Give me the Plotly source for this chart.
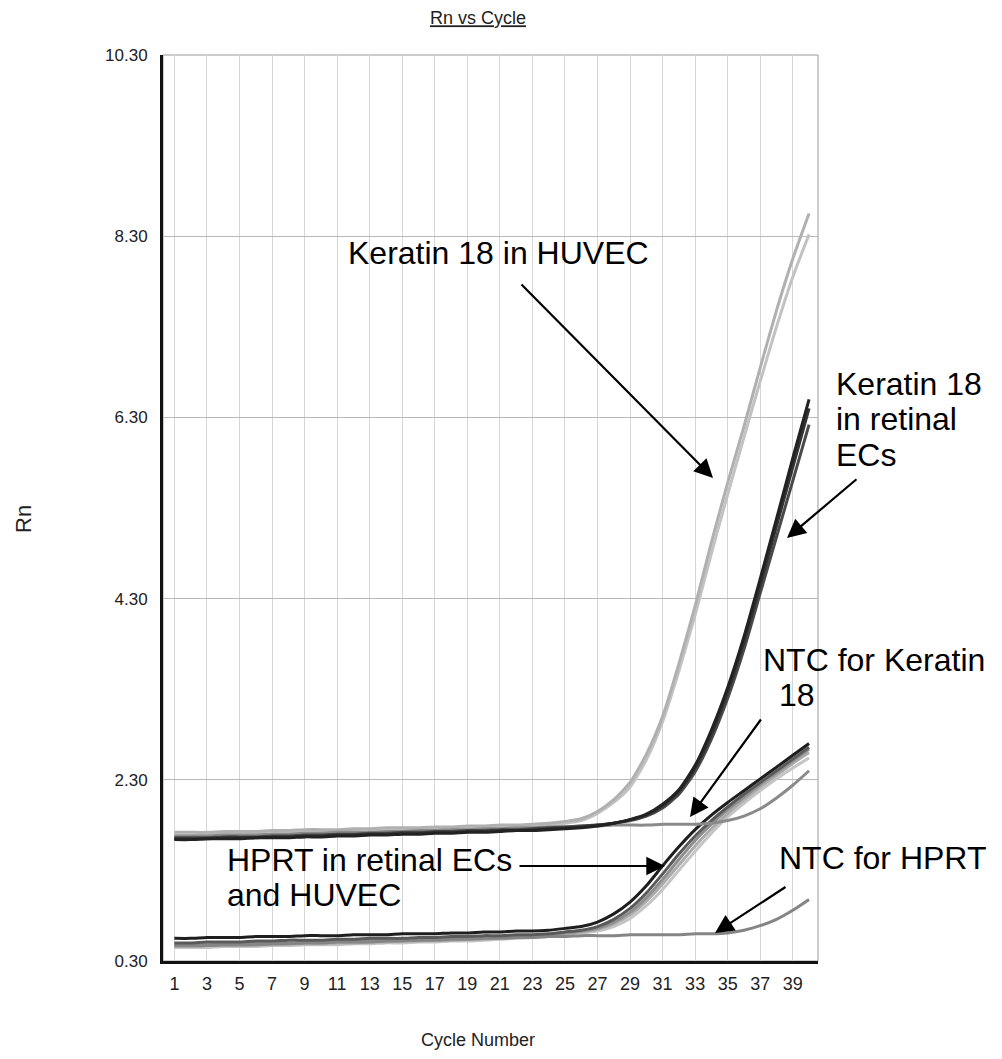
import plotly.graph_objects as go

cycles = list(range(1, 41))

huvec_k18_a = [1.72,1.72,1.72,1.73,1.73,1.73,1.74,1.74,1.75,1.75, 1.75,1.76,1.76,1.77,1.77,1.77,1.78,1.78,1.79,1.79, 1.80,1.80,1.81,1.82,1.84,1.87,1.95,2.08,2.27,2.58, 3.00,3.58,4.22,4.92,5.58,6.20,6.85,7.48,8.05,8.55]
huvec_k18_b = [1.69,1.69,1.70,1.70,1.70,1.71,1.71,1.72,1.72,1.73, 1.73,1.73,1.74,1.74,1.75,1.75,1.76,1.76,1.77,1.77, 1.78,1.78,1.79,1.80,1.82,1.85,1.93,2.05,2.22,2.52, 2.94,3.50,4.12,4.80,5.45,6.08,6.70,7.30,7.85,8.32]
retinal_k18_a = [1.64,1.64,1.65,1.65,1.65,1.66,1.66,1.66,1.67,1.67, 1.68,1.68,1.69,1.69,1.70,1.70,1.71,1.71,1.72,1.72, 1.73,1.74,1.74,1.75,1.76,1.77,1.79,1.82,1.86,1.92, 2.03,2.19,2.46,2.85,3.32,3.88,4.52,5.18,5.85,6.50]
retinal_k18_b = [1.65,1.65,1.65,1.66,1.66,1.66,1.67,1.67,1.68,1.68, 1.69,1.69,1.70,1.70,1.71,1.71,1.72,1.72,1.73,1.73, 1.74,1.74,1.75,1.76,1.77,1.78,1.80,1.82,1.86,1.91, 2.01,2.17,2.43,2.80,3.27,3.82,4.45,5.10,5.75,6.40]
retinal_k18_c = [1.66,1.66,1.66,1.67,1.67,1.67,1.68,1.68,1.69,1.69, 1.70,1.70,1.71,1.71,1.72,1.72,1.73,1.73,1.74,1.74, 1.75,1.75,1.76,1.77,1.78,1.79,1.80,1.82,1.85,1.90, 1.99,2.14,2.39,2.75,3.20,3.74,4.36,4.98,5.60,6.22]
ntc_k18 = [1.68,1.68,1.68,1.69,1.69,1.69,1.70,1.70,1.71,1.71, 1.72,1.72,1.72,1.73,1.73,1.74,1.74,1.75,1.75,1.76, 1.76,1.77,1.77,1.78,1.78,1.79,1.79,1.80,1.80,1.80, 1.81,1.81,1.81,1.82,1.85,1.90,1.98,2.10,2.24,2.40]
hprt_a = [0.55,0.55,0.56,0.56,0.56,0.57,0.57,0.57,0.58,0.58, 0.58,0.59,0.59,0.59,0.60,0.60,0.60,0.61,0.61,0.62, 0.62,0.63,0.63,0.64,0.66,0.68,0.73,0.82,0.95,1.13, 1.35,1.56,1.75,1.91,2.05,2.18,2.31,2.44,2.57,2.70]
hprt_b = [0.50,0.50,0.51,0.51,0.51,0.52,0.52,0.53,0.53,0.53, 0.54,0.54,0.55,0.55,0.55,0.56,0.56,0.57,0.57,0.58, 0.58,0.59,0.59,0.60,0.62,0.64,0.68,0.76,0.88,1.05, 1.26,1.48,1.68,1.85,2.00,2.14,2.27,2.40,2.53,2.66]
hprt_c = [0.46,0.46,0.47,0.47,0.47,0.48,0.48,0.49,0.49,0.49, 0.50,0.50,0.51,0.51,0.52,0.52,0.53,0.53,0.54,0.54, 0.55,0.56,0.57,0.58,0.60,0.62,0.65,0.71,0.81,0.96, 1.15,1.36,1.57,1.76,1.93,2.08,2.22,2.35,2.48,2.60]
hprt_d = [0.45,0.45,0.45,0.46,0.46,0.46,0.47,0.47,0.48,0.48, 0.48,0.49,0.49,0.50,0.50,0.51,0.51,0.52,0.52,0.53, 0.54,0.55,0.56,0.57,0.59,0.61,0.63,0.68,0.77,0.91, 1.09,1.30,1.51,1.71,1.89,2.04,2.18,2.31,2.43,2.54]
hprt_e = [0.48,0.48,0.48,0.49,0.49,0.50,0.50,0.50,0.51,0.51, 0.52,0.52,0.53,0.53,0.53,0.54,0.54,0.55,0.55,0.56, 0.57,0.57,0.58,0.59,0.61,0.63,0.66,0.73,0.84,1.00, 1.20,1.42,1.63,1.81,1.97,2.11,2.25,2.38,2.51,2.64]
ntc_hprt = [0.47,0.47,0.47,0.48,0.48,0.48,0.49,0.49,0.50,0.50, 0.51,0.51,0.51,0.52,0.52,0.53,0.53,0.54,0.54,0.55, 0.55,0.56,0.56,0.57,0.57,0.58,0.58,0.58,0.59,0.59, 0.59,0.59,0.60,0.60,0.61,0.64,0.69,0.76,0.86,0.98]

y_tick_vals = [0.3, 2.3, 4.3, 6.3, 8.3, 10.3]
y_tick_text = ["0.30", "2.30", "4.30", "6.30", "8.30", "10.30"]
x_tick_vals = list(range(1, 40, 2))

series = [
    (hprt_d, "#c4c4c4"), (hprt_c, "#ababab"), (hprt_e, "#8e8e8e"), (ntc_hprt, "#858585"),
    (hprt_b, "#5a5a5a"), (hprt_a, "#1e1e1e"),
    (huvec_k18_b, "#c2c2c2"), (huvec_k18_a, "#b0b0b0"),
    (ntc_k18, "#8a8a8a"),
    (retinal_k18_c, "#4a4a4a"), (retinal_k18_b, "#333333"), (retinal_k18_a, "#222222"),
]

fig = go.Figure()
for vals, col in series:
    fig.add_trace(go.Scatter(x=cycles, y=vals, mode="lines",
                             line=dict(color=col, width=3, shape="spline", smoothing=0.6),
                             showlegend=False, hoverinfo="skip"))

FONT = "Liberation Sans, Arial, sans-serif"
L, R, T, B = 163, 818, 55, 961
W, H = R - L, B - T

def px(x):
    return (x - L) / W

def py(y):
    return (B - y) / H

texts = [
    ("Keratin 18 in HUVEC", 346, 253),
    ("Keratin 18", 834, 384),
    ("in retinal", 834, 419),
    ("ECs", 834, 455),
    ("NTC for Keratin", 761, 660),
    ("18", 777, 695),
    ("HPRT in retinal ECs", 225, 860),
    ("and HUVEC", 225, 895),
    ("NTC for HPRT", 777, 858),
]
for t, x, y in texts:
    fig.add_annotation(text=t, x=px(x), y=py(y), xref="paper", yref="paper",
                       xanchor="left", yanchor="middle", showarrow=False,
                       font=dict(family=FONT, size=32, color="#000000"))

arrows = [
    ((713, 478), (520, 283)),
    ((787, 538), (858, 478)),
    ((690, 817), (762, 718)),
    ((665, 866), (518, 866)),
    ((715, 933), (787, 886)),
]
for (tx, ty), (sx, sy) in arrows:
    fig.add_annotation(text="", x=px(tx), y=py(ty), xref="paper", yref="paper",
                       ax=sx - tx, ay=sy - ty, axref="pixel", ayref="pixel",
                       showarrow=True, arrowhead=2, arrowsize=1.7, arrowwidth=2.2,
                       arrowcolor="#000000", standoff=0, startstandoff=0)

fig.add_annotation(text="Cycle Number", x=px(478), y=py(1040), xref="paper", yref="paper",
                   xanchor="center", yanchor="middle", showarrow=False,
                   font=dict(family=FONT, size=18, color="#222222"))
fig.add_annotation(text="Rn", x=px(23), y=py(519), xref="paper", yref="paper",
                   xanchor="center", yanchor="middle", showarrow=False, textangle=-90,
                   font=dict(family=FONT, size=22, color="#222222"))

fig.add_shape(type="rect", xref="paper", yref="paper", x0=0, y0=0, x1=1, y1=1,
              line=dict(color="#9a9a9a", width=1), layer="below")

fig.update_layout(
    width=1002, height=1059,
    margin=dict(l=L, r=1002 - R, t=T, b=1059 - B),
    paper_bgcolor="white", plot_bgcolor="white",
    title=dict(text="<span style='text-decoration:underline'>Rn vs Cycle</span>",
               x=px(478), xref="paper", xanchor="center",
               y=1 - 18 / 1059, yref="container", yanchor="middle",
               font=dict(family=FONT, size=18, color="#222222")),
    xaxis=dict(range=[0.3, 40.55], tickvals=x_tick_vals, ticks="", showline=True,
               linecolor="#111111", linewidth=3, showgrid=True, gridcolor="#d6d6d6",
               gridwidth=1, zeroline=False, ticklabelstandoff=4,
               tickfont=dict(family=FONT, size=18, color="#222222")),
    yaxis=dict(range=[0.3, 10.3], tickvals=y_tick_vals, ticktext=y_tick_text, ticks="",
               showline=True, linecolor="#111111", linewidth=3, showgrid=True,
               gridcolor="#b8b8b8", gridwidth=1, zeroline=False, ticklabelstandoff=9,
               tickfont=dict(family=FONT, size=17, color="#222222")),
)

fig.write_html("out.html", post_script="document.body.style.margin='0';",
               config={"displayModeBar": False})
